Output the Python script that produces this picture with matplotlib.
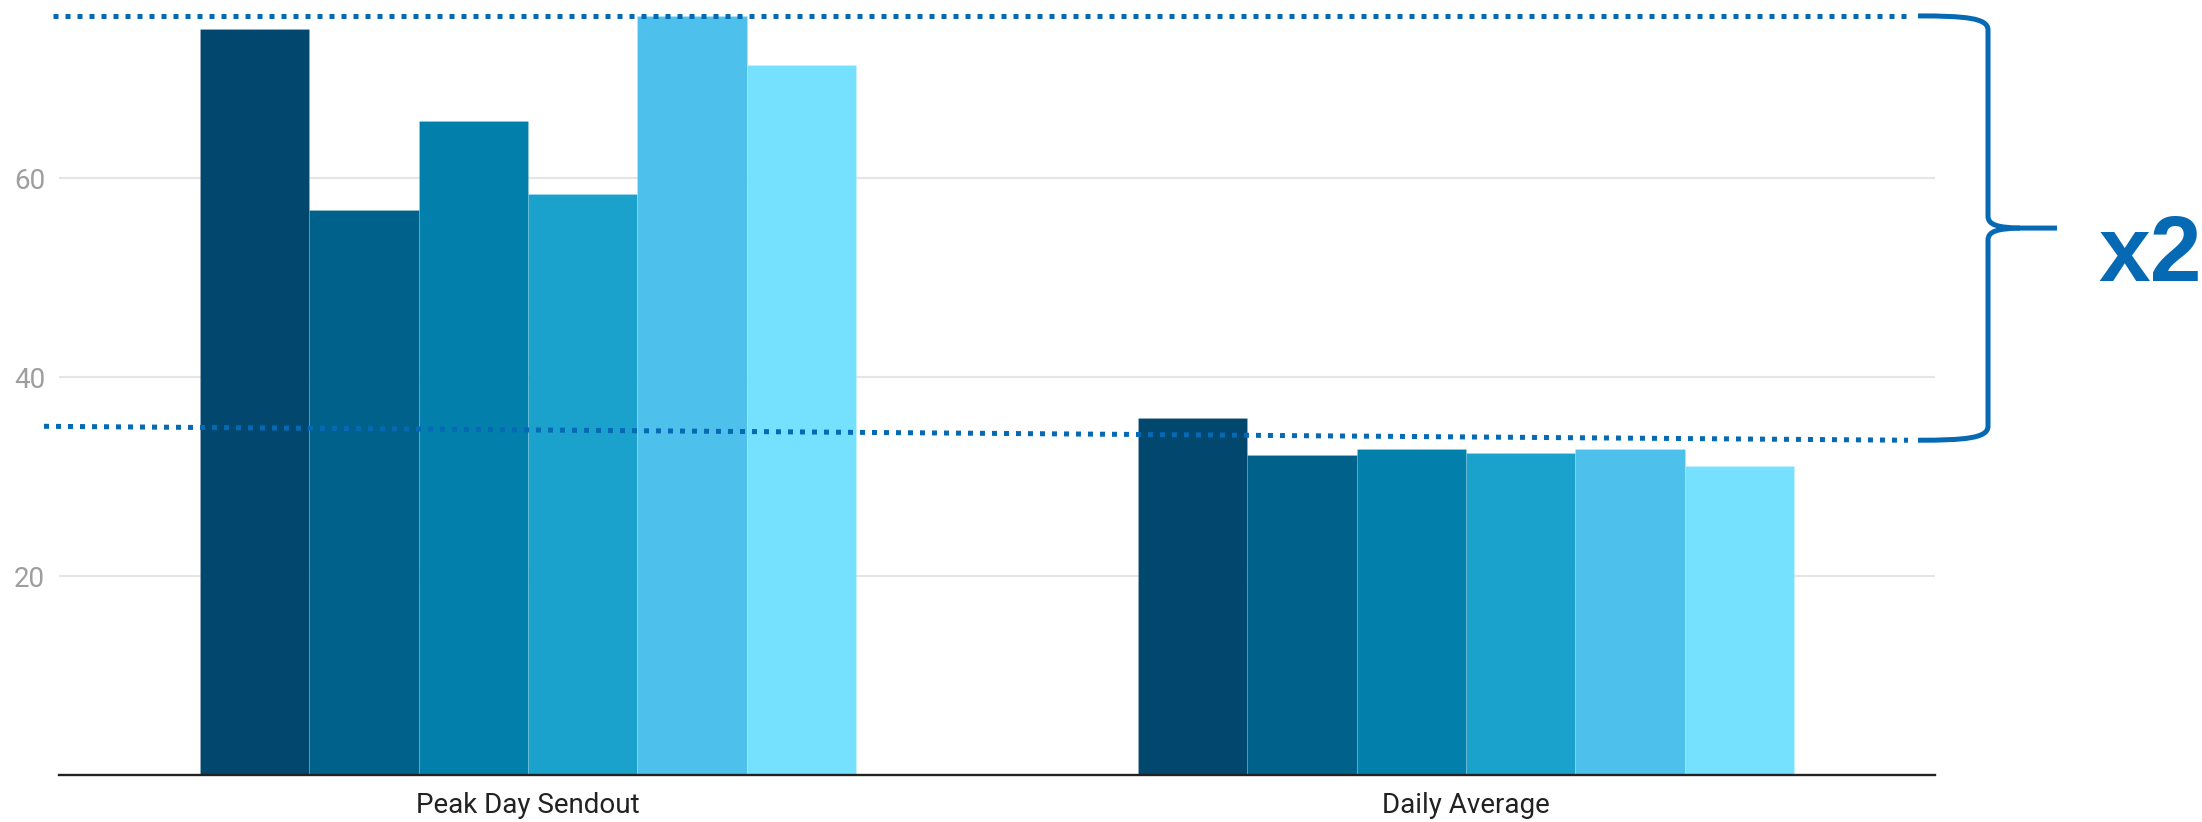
import numpy as np
import matplotlib.pyplot as plt
from matplotlib.path import Path
from matplotlib.patches import PathPatch

categories = ["Peak Day Sendout", "Daily Average"]
series_colors = ["#02476d", "#00628a", "#0280ab", "#1aa1cc", "#4dc1ec", "#76e0ff"]
# one value per series, per category
peak_day = [75.0, 56.8, 65.7, 58.4, 76.3, 71.4]
daily_avg = [35.9, 32.2, 32.8, 32.4, 32.8, 31.1]
y_ticks = [20, 40, 60]

# guide lines for the "x2" comparison (left / right end levels)
guide_high = [max(peak_day), max(peak_day)]
guide_low = [35.05, 33.65]

BLUE = "#0569b4"
W, H = 2202, 822

fig = plt.figure(figsize=(W / 100, H / 100), dpi=100)
ax = fig.add_axes([59 / W, 47 / H, 1876 / W, 775 / H])

values = np.array([peak_day, daily_avg])
x = np.arange(len(categories))
n = len(series_colors)
width = 0.7 / n
for i, color in enumerate(series_colors):
    ax.bar(x + (i - (n - 1) / 2) * width, values[:, i], width=width,
           color=color, edgecolor=(1, 1, 1, 0.12), linewidth=0.7, zorder=2)

ax.set_xlim(-0.5, 1.5)
ax.set_ylim(0, 77.9)
ax.set_yticks(y_ticks)
ax.set_xticks(x)
ax.set_xticklabels(categories)
ax.grid(axis="y", color="#e5e5e5", linewidth=1.5, zorder=0)
ax.set_axisbelow(True)
for side in ["top", "left", "right"]:
    ax.spines[side].set_visible(False)
ax.spines["bottom"].set_color("#222222")
ax.spines["bottom"].set_linewidth(1.7)
ax.spines["bottom"].set_zorder(3)
ax.tick_params(axis="y", length=0, pad=10, labelsize=20, labelcolor="#9e9e9e")
ax.tick_params(axis="x", length=0, pad=12, labelsize=20, labelcolor="#222222")
for lbl in ax.get_xticklabels() + ax.get_yticklabels():
    lbl.set_family("Roboto")

# overlay in pixel coordinates for the annotation
ov = fig.add_axes([0, 0, 1, 1], zorder=5)
ov.set_xlim(0, W)
ov.set_ylim(H, 0)
ov.axis("off")
ov.patch.set_alpha(0)


def to_px(v):
    return H - ax.transData.transform((0, v))[1]


dots = dict(color=BLUE, lw=3.6, linestyle=(0, (1, 1.4)), dash_capstyle="butt")
ov.plot([53, 1908], [to_px(guide_high[0]), to_px(guide_high[1])], **dots)
ov.plot([44, 1908], [to_px(guide_low[0]), to_px(guide_low[1])], **dots)

# curly brace joining the two guide lines
yt, yb = to_px(guide_high[1]), to_px(guide_low[1])
ym = (yt + yb) / 2
x0, xv, xt = 1918, 1988, 2057
upper = Path(
    [(x0, yt), (1965, yt), (xv, yt + 2), (xv, yt + 14),
     (xv, ym - 12),
     (xv, ym - 3), (xv + 10, ym - 0.5), (xv + 32, ym),
     (xt, ym)],
    [Path.MOVETO, Path.CURVE4, Path.CURVE4, Path.CURVE4,
     Path.LINETO,
     Path.CURVE4, Path.CURVE4, Path.CURVE4,
     Path.LINETO])
lower = Path(
    [(xv + 32, ym), (xv + 10, ym + 0.5), (xv, ym + 3), (xv, ym + 12),
     (xv, yb - 14),
     (xv, yb - 2), (1965, yb), (x0, yb)],
    [Path.MOVETO, Path.CURVE4, Path.CURVE4, Path.CURVE4,
     Path.LINETO,
     Path.CURVE4, Path.CURVE4, Path.CURVE4])
for p in (upper, lower):
    ov.add_patch(PathPatch(p, facecolor="none", edgecolor=BLUE, lw=3.6,
                           capstyle="butt", joinstyle="round"))

ov.text(2098, ym + 53, "x2", color=BLUE, fontsize=67, fontweight="bold",
        family="Liberation Sans", ha="left", va="baseline")

fig.savefig("out.png", dpi=100)
